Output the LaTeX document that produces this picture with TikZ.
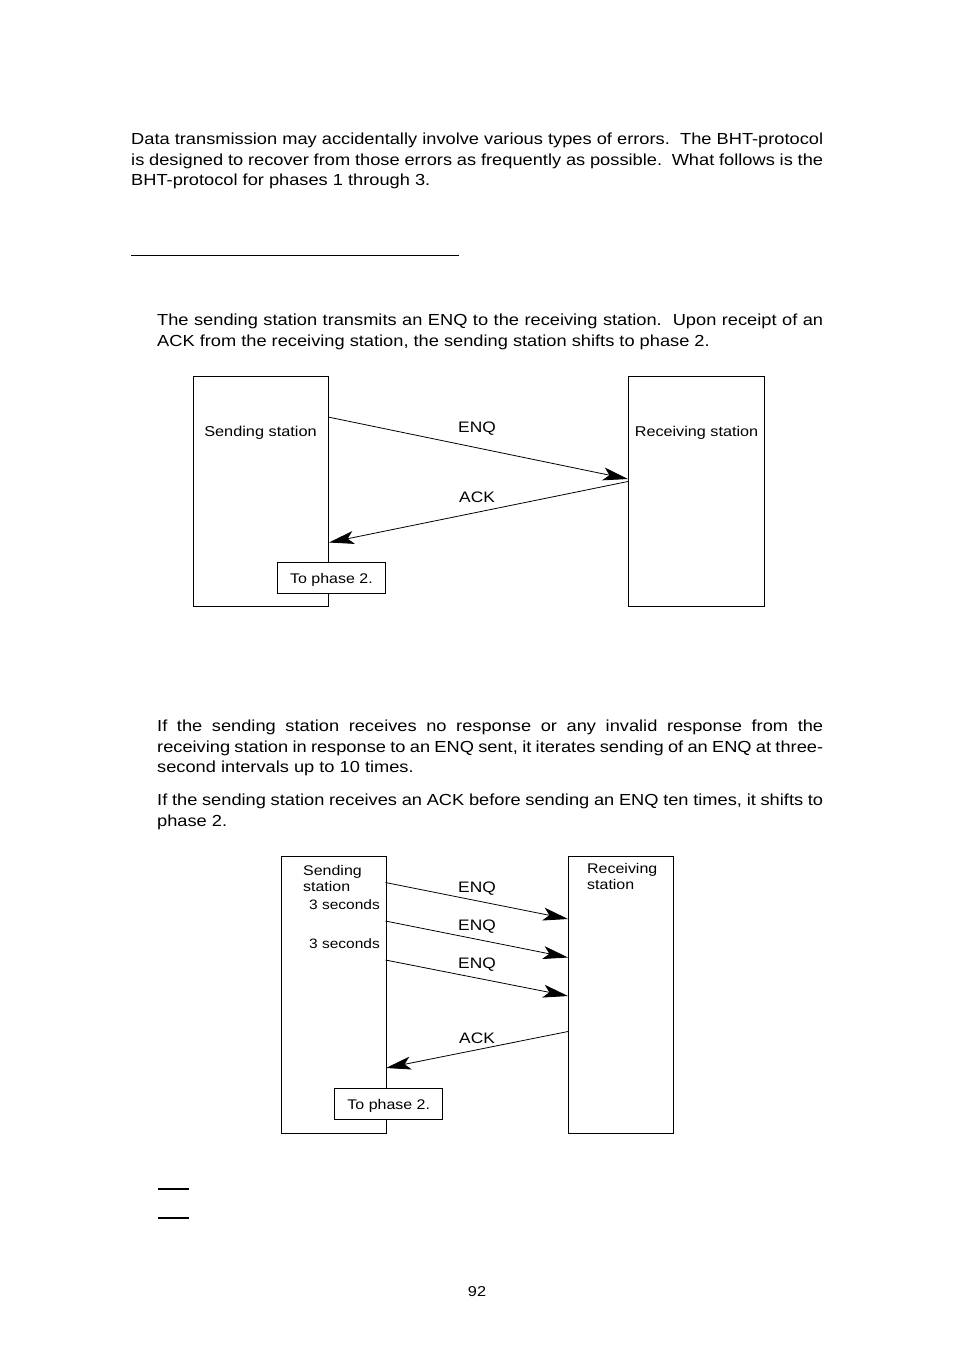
\documentclass[tikz,border=0pt]{standalone}
\usepackage{fontspec}
\setmainfont[FakeStretch=1.14]{Liberation Sans}
\usetikzlibrary{arrows.meta}
\tikzset{
  body/.style={anchor=base west, inner sep=0pt, font=\fontsize{16}{20}\selectfont},
  lbl/.style={inner sep=0pt, yshift=-1.6pt, font=\fontsize{14.3}{16}\selectfont},
  station/.style={draw, line width=0.9pt, inner sep=0pt, anchor=north west},
  msg/.style={line width=0.8pt, -{Stealth[length=25pt,width=13pt,inset=6pt]}},
}
\newcommand{\jline}[1]{\makebox[692pt][s]{#1}}
\newcommand{\kline}[1]{\makebox[666pt][s]{#1}}
\begin{document}
\begin{tikzpicture}[x=1pt,y=-1pt]
\useasboundingbox (0,0) rectangle (954,1348);
\fill[white] (0,0) rectangle (954,1348);
% paragraph 1
\node[body] (p1a) at (131,145) {\jline{Data transmission may accidentally involve various types of errors.\ \ The BHT-protocol}};
\node[body] (p1b) at (131,165.5) {\jline{is designed to recover from those errors as frequently as possible.\ \ What follows is the}};
\node[body] (p1c) at (131,186) {BHT-protocol for phases 1 through 3.};
\draw[line width=1pt] (131,255) coordinate (r1a) -- (459,255) coordinate (r1b);
% paragraph 2
\node[body] (p2a) at (157,325.5) {\kline{The sending station transmits an ENQ to the receiving station.\ \ Upon receipt of an}};
\node[body] (p2b) at (157,346) {ACK from the receiving station, the sending station shifts to phase 2.};
% diagram 1
\node[station, minimum width=135pt, minimum height=230pt] (send1) at (193,376) {};
\node[station, minimum width=136pt, minimum height=230pt] (recv1) at (628,376) {};
\node[lbl] (send1t) at (260.5,431.5) {Sending station};
\node[lbl, font=\fontsize{14.2}{16}\selectfont] (recv1t) at (696.5,431.5) {Receiving station};
\coordinate (e1s) at (328,417);
\coordinate (e1t) at (628,479);
\coordinate (a1s) at (628,481.5);
\coordinate (a1t) at (329,542.5);
\draw[msg] (e1s) -- (e1t);
\draw[msg] (a1s) -- (a1t);
\node[lbl, font=\fontsize{15.2}{16}\selectfont] (enq1) at (477,427.5) {ENQ};
\node[lbl, font=\fontsize{15.2}{16}\selectfont] (ack1) at (477,495.5) {ACK};
\node[station, fill=white, minimum width=108pt, minimum height=31pt] (ph1) at (277,562) {};
\node[lbl, font=\fontsize{14}{16}\selectfont] (ph1t) at (ph1.center) {To phase 2.};
% paragraph 3
\node[body] (p3a) at (157,731.5) {\kline{If the sending station receives no response or any invalid response from the}};
\node[body] (p3b) at (157,752) {\kline{receiving station in response to an ENQ sent, it iterates sending of an ENQ at three-}};
\node[body] (p3c) at (157,772.5) {second intervals up to 10 times.};
\node[body] (p4a) at (157,805.5) {\kline{If the sending station receives an ACK before sending an ENQ ten times, it shifts to}};
\node[body] (p4b) at (157,826) {phase 2.};
% diagram 2
\node[station, minimum width=105pt, minimum height=277pt] (send2) at (280.5,855.5) {};
\node[station, minimum width=104.5pt, minimum height=277pt] (recv2) at (568,855.5) {};
\node[lbl, yshift=1.6pt, font=\fontsize{14}{16}\selectfont, anchor=base west, align=left] (send2t) at (303,891) {Sending\\station};
\node[lbl, yshift=1.6pt, font=\fontsize{14}{16}\selectfont, anchor=base west, align=left] (recv2t) at (587,889) {Receiving\\station};
\node[lbl, yshift=1.6pt, font=\fontsize{13.6}{16}\selectfont, anchor=base east] (sec1) at (380,909) {3 seconds};
\node[lbl, yshift=1.6pt, font=\fontsize{13.6}{16}\selectfont, anchor=base east] (sec2) at (380,948) {3 seconds};
\coordinate (e2s) at (385.5,882.5);
\coordinate (e2t) at (568,919);
\coordinate (e3s) at (385.5,921);
\coordinate (e3t) at (568,957.5);
\coordinate (e4s) at (385.5,960);
\coordinate (e4t) at (568,996);
\coordinate (a2s) at (568,1031.5);
\coordinate (a2t) at (386,1068);
\draw[msg] (e2s) -- (e2t);
\draw[msg] (e3s) -- (e3t);
\draw[msg] (e4s) -- (e4t);
\draw[msg] (a2s) -- (a2t);
\node[lbl, font=\fontsize{15.2}{16}\selectfont] (enq2) at (477,887.5) {ENQ};
\node[lbl, font=\fontsize{15.2}{16}\selectfont] (enq3) at (477,925.5) {ENQ};
\node[lbl, font=\fontsize{15.2}{16}\selectfont] (enq4) at (477,963.5) {ENQ};
\node[lbl, font=\fontsize{15.2}{16}\selectfont] (ack2) at (477,1036.5) {ACK};
\node[station, fill=white, minimum width=108pt, minimum height=31pt] (ph2) at (334.3,1088.3) {};
\node[lbl, font=\fontsize{14}{16}\selectfont] (ph2t) at (ph2.center) {To phase 2.};
% short rules
\draw[line width=2pt] (158,1189) coordinate (u1a) -- (189,1189) coordinate (u1b);
\draw[line width=2pt] (158,1218) coordinate (u2a) -- (189,1218) coordinate (u2b);
% page number
\node[lbl, font=\fontsize{14.3}{16}\selectfont] (pg) at (477,1290) {92};
\end{tikzpicture}
\end{document}
